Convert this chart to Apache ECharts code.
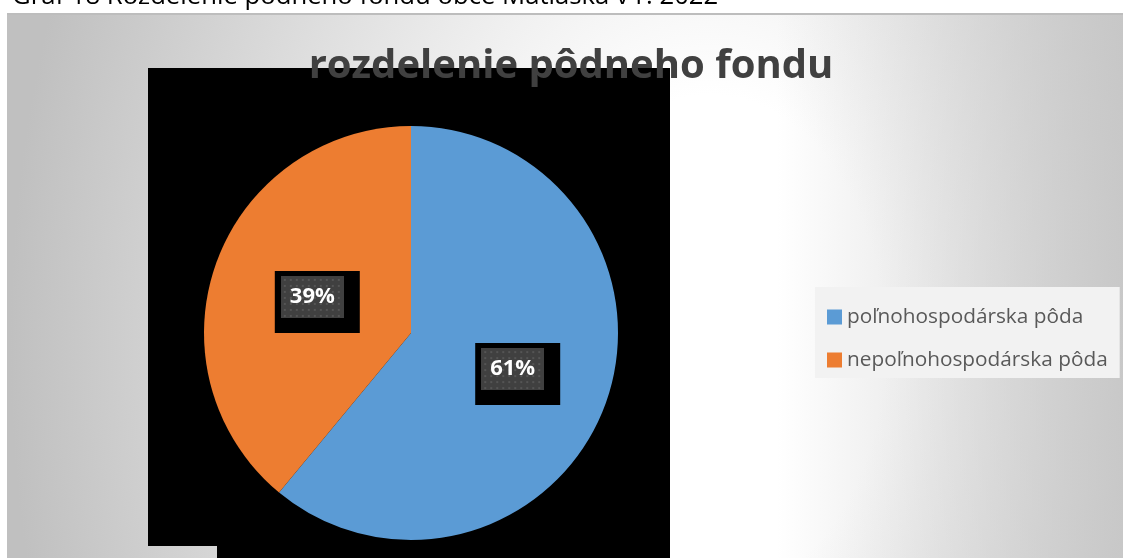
<!DOCTYPE html>
<html>
<head>
	<meta charset="UTF-8">
	<title>rozdelenie pôdneho fondu</title>
	<script src="https://cdn.jsdelivr.net/npm/echarts@6/dist/echarts.min.js"></script>
	<style>
		html, body {
			margin: 0;
			padding: 0;
			background: #fff;
		}
		#bg {
			position: absolute;
			left: 7px;
			top: 13px;
			width: 1116px;
			height: 545px;
			border-top: 2px solid #bdbdbd;
			box-sizing: border-box;
			background:
				linear-gradient(to right, rgba(194,194,194,0) 770px, rgba(194,194,194,0.8) 1116px),
				radial-gradient(ellipse 700px 1000px at 703px 330px, #ffffff 25%, #c0c0c0 100%);
		}
		#main {
			position: absolute;
			left: 0;
			top: 0;
			width: 1123px;
			height: 558px;
		}
	</style>
</head>
<body>

<div id="bg"></div>
<div id="main"></div>

<script>
	// data
	var categories = ['poľnohospodárska pôda', 'nepoľnohospodárska pôda'];
	var values = [61, 39];
	var colors = ['#5b9bd5', '#ed7d31'];

	// dark dotted box behind the data labels
	function dotPattern(w, h) {
		var c = document.createElement('canvas');
		c.width = w;
		c.height = h;
		var g = c.getContext('2d');
		g.fillStyle = '#404040';
		g.fillRect(0, 0, w, h);
		g.fillStyle = '#555555';
		for (var y = 3; y < h; y += 6) {
			for (var x = 3; x < w; x += 6) {
				g.fillRect(x, y, 2, 2);
			}
		}
		return c;
	}

	var pieData = [];
	for (var i = 0; i < categories.length; i++) {
		pieData.push({ name: categories[i], value: values[i], itemStyle: { color: colors[i] } });
	}

	var myChart = echarts.init(document.getElementById('main'));

	var option = {
		backgroundColor: 'transparent',
		animation: false,
		title: {
			text: 'rozdelenie pôdneho fondu',
			left: 566,
			top: 42,
			textAlign: 'center',
			textStyle: {
				fontFamily: 'Open Sans',
				fontWeight: 'bold',
				fontSize: 40,
				color: '#404040'
			}
		},
		legend: {
			orient: 'vertical',
			left: 815,
			top: 287,
			padding: [18, 12, 6, 12],
			backgroundColor: '#f2f2f2',
			itemWidth: 15,
			itemHeight: 15,
			itemGap: 19,
			icon: 'rect',
			data: categories,
			textStyle: {
				fontFamily: 'Open Sans',
				fontSize: 20.8,
				lineHeight: 24,
				color: '#595959'
			}
		},
		graphic: [
			{
				type: 'text',
				left: 12,
				top: -16,
				z: 10,
				style: {
					text: 'Graf 18 Rozdelenie pôdneho fondu obce Matiaška v r. 2022',
					fontFamily: 'Open Sans',
					fontSize: 25.7,
					fill: '#000'
				}
			},
			{
				type: 'rect',
				z: 0,
				shape: { x: 148, y: 68, width: 522, height: 478 },
				style: { fill: '#000' }
			},
			{
				type: 'rect',
				z: 0,
				shape: { x: 217, y: 545, width: 453, height: 13 },
				style: { fill: '#000' }
			}
		],
		series: [
			{
				name: 'rozdelenie pôdneho fondu',
				type: 'pie',
				center: [411, 333],
				radius: 207,
				startAngle: 90,
				clockwise: true,
				z: 3,
				itemStyle: { borderWidth: 0 },
				label: {
					position: 'inside',
					formatter: '{v|{d}%}',
					backgroundColor: '#000',
					padding: [5, 16, 15, 6],
					rich: {
						v: {
							fontFamily: 'Open Sans',
							fontWeight: 'bold',
							fontSize: 22,
							width: 63,
							height: 42,
							lineHeight: 42,
							align: 'center',
							color: '#fff',
							backgroundColor: { image: dotPattern(63, 42) }
						}
					}
				},
				labelLayout: { dx: 6.5, dy: 5 },
				labelLine: { show: false },
				emphasis: { disabled: true },
				data: pieData
			}
		]
	};

	myChart.setOption(option);
</script>

</body>
</html>
